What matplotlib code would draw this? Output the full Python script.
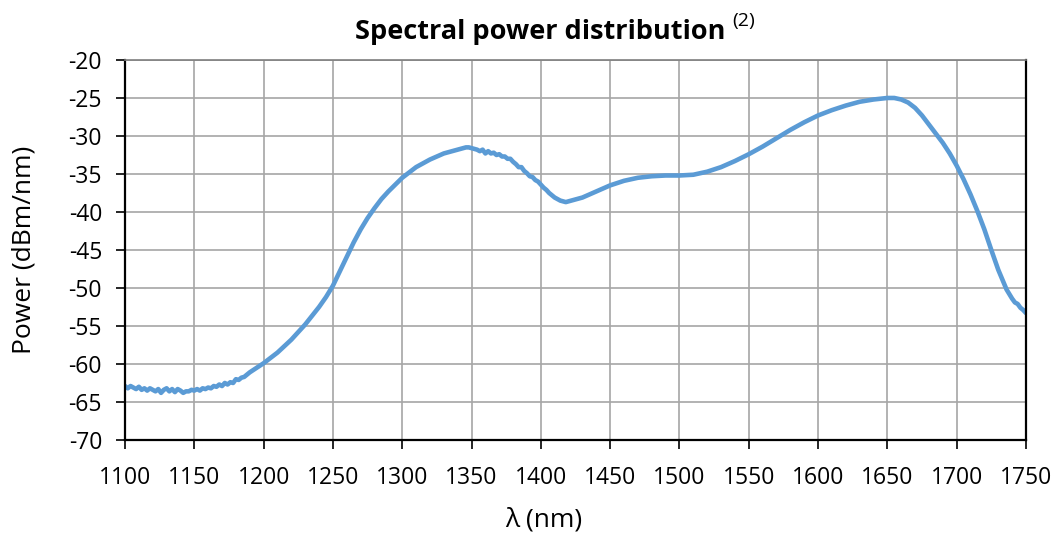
import matplotlib
matplotlib.use("Agg")
import matplotlib.pyplot as plt

wavelength = [
    1100, 1102, 1104, 1106, 1108, 1110, 1112, 1114, 1116, 1118,
    1120, 1122, 1124, 1126, 1128, 1130, 1132, 1134, 1136, 1138,
    1140, 1142, 1144, 1146, 1148, 1150, 1152, 1154, 1156, 1158,
    1160, 1162, 1164, 1166, 1168, 1170, 1172, 1174, 1176, 1178,
    1180, 1182, 1184, 1186, 1188, 1190,
    1200, 1210, 1220, 1230, 1240, 1245, 1250, 1255, 1260, 1265,
    1270, 1275, 1280, 1285, 1290, 1295, 1300, 1310, 1320, 1330, 1340,
    1344, 1346, 1348, 1350, 1352, 1354, 1356, 1358, 1360, 1362,
    1364, 1366, 1368, 1370, 1372, 1374, 1376, 1378, 1380, 1382,
    1384, 1386, 1388, 1390, 1392, 1394, 1396, 1398, 1400, 1402,
    1404, 1406, 1408, 1410, 1412, 1414, 1416, 1418, 1420,
    1430, 1440, 1450, 1460, 1470, 1480, 1490, 1500, 1510, 1520,
    1530, 1540, 1550, 1560, 1570, 1580, 1590, 1600, 1610, 1620,
    1630, 1640, 1650, 1655, 1660, 1665, 1670, 1675, 1680, 1685,
    1690, 1695, 1700, 1705, 1710, 1715, 1720, 1725, 1730, 1736,
    1740, 1742, 1744, 1746, 1748, 1750,
]
power = [
    -62.9, -63.2, -62.9, -63.1, -63.3, -63.0, -63.4, -63.2, -63.5, -63.2,
    -63.4, -63.6, -63.3, -63.8, -63.4, -63.2, -63.6, -63.3, -63.7, -63.3,
    -63.5, -63.8, -63.6, -63.6, -63.4, -63.5, -63.3, -63.5, -63.2, -63.3,
    -63.1, -63.2, -62.9, -63.0, -62.7, -62.9, -62.5, -62.7, -62.4, -62.5,
    -62.0, -62.1, -61.8, -61.7, -61.4, -61.1,
    -59.9, -58.5, -56.8, -54.8, -52.5, -51.2, -49.7, -47.8, -45.9, -44.0,
    -42.3, -40.8, -39.5, -38.3, -37.3, -36.4, -35.5, -34.1, -33.1, -32.3, -31.8,
    -31.6, -31.5, -31.5, -31.6, -31.7, -31.8, -32.0, -31.8, -32.3, -32.0,
    -32.3, -32.2, -32.5, -32.4, -32.7, -32.7, -33.0, -33.0, -33.4, -33.7,
    -34.1, -34.1, -34.6, -34.9, -35.3, -35.4, -35.8, -36.0, -36.4, -36.8,
    -37.1, -37.5, -37.8, -38.1, -38.3, -38.5, -38.6, -38.7, -38.6,
    -38.1, -37.3, -36.5, -35.9, -35.5, -35.3, -35.2, -35.2, -35.1, -34.7,
    -34.1, -33.3, -32.4, -31.4, -30.3, -29.2, -28.2, -27.3, -26.6, -26.0,
    -25.5, -25.2, -25.0, -25.0, -25.2, -25.6, -26.3, -27.3, -28.5, -29.7,
    -30.9, -32.3, -33.9, -35.7, -37.7, -39.9, -42.3, -45.0, -47.6, -50.2,
    -51.4, -51.9, -52.1, -52.6, -52.9, -53.3,
]

BLUE = "#5b9bd5"
GRID = "#a6a6a6"

plt.rcParams.update({
    "font.family": ["Open Sans", "DejaVu Sans"],
    "font.size": 16.5,
    "axes.unicode_minus": False,
})

fig = plt.figure(figsize=(10.54, 5.35), dpi=100)
ax = fig.add_axes([0.1186, 0.1776, 0.8548, 0.7103])

ax.plot(wavelength, power, color=BLUE, lw=3.3, solid_capstyle="round",
        solid_joinstyle="round")

ax.set_xlim(1100, 1750)
ax.set_ylim(-70, -20)
ax.set_xticks(range(1100, 1751, 50))
ax.set_yticks(range(-70, -19, 5))
ax.grid(True, color=GRID, lw=1.2)
ax.set_axisbelow(True)
ax.tick_params(direction="out", length=6.5, width=1.2, color="black",
               labelsize=16.5)
ax.tick_params(axis="x", pad=12)
ax.tick_params(axis="y", pad=10)

for side in ("left", "bottom", "right"):
    ax.spines[side].set_color("black")
    ax.spines[side].set_linewidth(1.6)
ax.spines["top"].set_color("#7f7f7f")
ax.spines["top"].set_linewidth(1.2)

ax.set_xlabel("λ (nm)", fontsize=19)
ax.xaxis.set_label_coords((544 - 125) / 901, -0.178)
ax.set_ylabel("Power (dBm/nm)", fontsize=19)
ax.yaxis.set_label_coords(-0.098, 0.5)

fig.text(0.5125, 0.94, "Spectral power distribution", fontsize=19.5,
         fontweight="bold", ha="center", va="center")
fig.text(0.695, 0.96, "(2)", fontsize=14, ha="left", va="center")

fig.savefig("out.png", dpi=100)
